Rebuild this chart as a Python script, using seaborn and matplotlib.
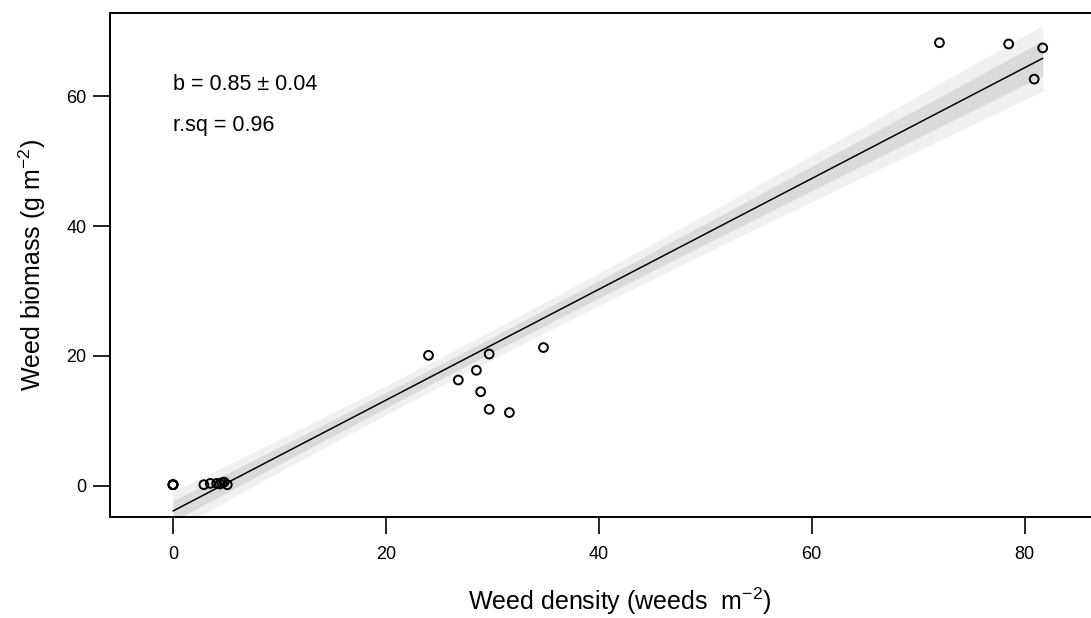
import numpy as np
import pandas as pd
import matplotlib
matplotlib.use("Agg")
import matplotlib.pyplot as plt
import seaborn as sns

# weed density (weeds m-2) and weed biomass (g m-2)
density = [0, 0, 0, 0,
           2.9, 3.5, 4.1, 4.4, 4.6, 4.8, 5.1,
           24.0, 26.8, 28.5, 28.9, 29.7, 29.7, 31.6, 34.8,
           72.0, 78.5, 80.9, 81.7]
biomass = [0.2, 0.2, 0.2, 0.2,
           0.2, 0.4, 0.4, 0.3, 0.5, 0.6, 0.2,
           20.1, 16.3, 17.8, 14.5, 20.3, 11.8, 11.3, 21.3,
           68.2, 68.0, 62.6, 67.4]
xticks = [0, 20, 40, 60, 80]
yticks = [0, 20, 40, 60]

df = pd.DataFrame({"density": density, "biomass": biomass})

sns.set_style("ticks")
plt.rcParams["font.family"] = ["Liberation Sans", "DejaVu Sans"]
plt.rcParams["mathtext.fontset"] = "custom"
plt.rcParams["mathtext.rm"] = "Liberation Sans"
plt.rcParams["mathtext.it"] = "Liberation Sans"
plt.rcParams["text.color"] = "black"
plt.rcParams["axes.labelcolor"] = "black"
plt.rcParams["xtick.color"] = "black"
plt.rcParams["ytick.color"] = "black"

# ordinary least squares fit, with standard error of the fitted line
x = df["density"].values
y = df["biomass"].values
n = len(x)
b, a = np.polyfit(x, y, 1)
resid = y - (a + b * x)
s = np.sqrt(np.sum(resid ** 2) / (n - 2))
sxx = np.sum((x - x.mean()) ** 2)
se_b = s / np.sqrt(sxx)
r2 = 1 - np.sum(resid ** 2) / np.sum((y - y.mean()) ** 2)

xg = np.linspace(x.min(), x.max(), 200)
fit = a + b * xg
se_fit = s * np.sqrt(1 / n + (xg - x.mean()) ** 2 / sxx)

fig = plt.figure(figsize=(10.91, 6.18), dpi=100)
ax = fig.add_axes([110 / 1091, 1 - 517 / 618, 1020 / 1091, (517 - 13) / 618])

ax.fill_between(xg, fit - 2.08 * se_fit, fit + 2.08 * se_fit, color="#f0f0f0", lw=0, zorder=1)
ax.fill_between(xg, fit - 1.1 * se_fit, fit + 1.1 * se_fit, color="#dadada", lw=0, zorder=2)

sns.regplot(data=df, x="density", y="biomass", ci=None, ax=ax,
            scatter_kws=dict(s=40, facecolors="none", edgecolors="black", linewidths=1.4,
                             alpha=1, zorder=4),
            line_kws=dict(color="black", lw=1.1, zorder=3))

ax.text(0, 61.7, "b = %.2f \u00b1 %.2f" % (b, se_b), fontsize=15.5, va="center", ha="left")
ax.text(0, 55.4, "r.sq = %.2f" % r2, fontsize=15.5, va="center", ha="left")

ax.set_xlim(-5.92, 89.9)
ax.set_ylim(-4.77, 72.77)
ax.set_xticks(xticks)
ax.set_yticks(yticks)
ax.set_xticklabels([str(t) for t in xticks])
ax.set_yticklabels([str(t) for t in yticks])
ax.tick_params(direction="out", length=12, width=1.2, labelsize=13, colors="black")
ax.tick_params(axis="x", pad=9)
ax.tick_params(axis="y", pad=5)
for sp in ax.spines.values():
    sp.set_linewidth(1.4)
    sp.set_color("black")

ax.set_xlabel("Weed density (weeds  m$^{-2}$)", fontsize=18, labelpad=16)
ax.set_ylabel("Weed biomass (g m$^{-2}$)", fontsize=18, labelpad=13)

fig.savefig("out.png", dpi=100)
